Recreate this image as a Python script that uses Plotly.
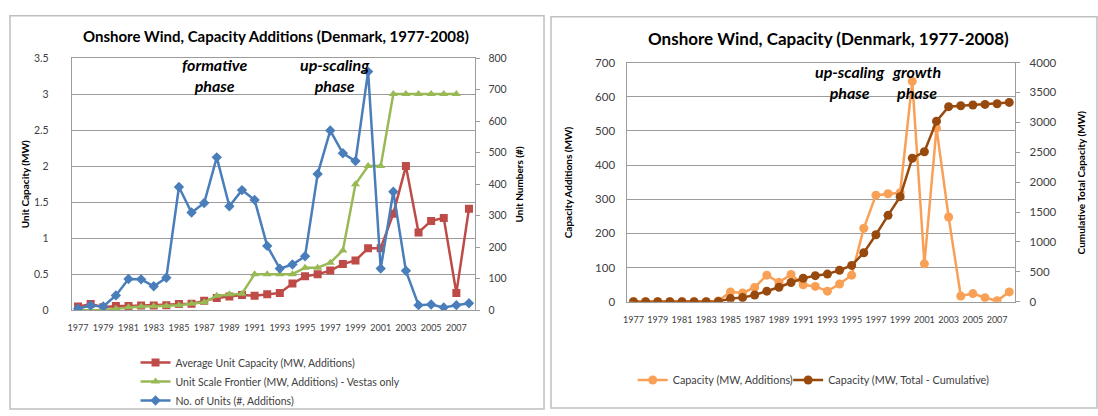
import plotly.graph_objects as go

# ---------------- data ----------------
years = list(range(1977, 2009))

avg_unit_capacity = [0.05, 0.085, 0.04, 0.06, 0.06, 0.065, 0.065, 0.07, 0.085, 0.09,
                     0.13, 0.17, 0.19, 0.21, 0.20, 0.22, 0.24, 0.37, 0.47, 0.50,
                     0.55, 0.64, 0.69, 0.86, 0.86, 1.34, 2.00, 1.08, 1.24, 1.28,
                     0.24, 1.41]

vestas_frontier = [0.0, 0.0, 0.0, 0.02, 0.04, 0.05, 0.055, 0.06, 0.07, 0.09,
                   0.11, 0.20, 0.22, 0.23, 0.50, 0.50, 0.50, 0.50, 0.59, 0.59,
                   0.66, 0.83, 1.75, 2.0, 2.0, 3.0, 3.0, 3.0, 3.0, 3.0,
                   3.0, None]

no_of_units = [5, 15, 12, 47, 99, 98, 76, 103, 391, 310,
               340, 485, 330, 381, 350, 204, 132, 145, 171, 432,
               570, 498, 473, 757, 132, 376, 125, 16, 18, 9,
               16, 22]

capacity_additions = [0, 0, 0, 0, 0, 0, 0, 2, 29, 26,
                      42, 78, 57, 80, 50, 45, 31, 52, 78, 215,
                      312, 316, 319, 645, 111, 508, 248, 17, 24, 12,
                      3, 29]

capacity_cumulative = [0, 0, 0, 0, 0, 0, 0, 5, 53, 70,
                       113, 178, 243, 323, 393, 437, 463, 528, 608, 820,
                       1121, 1445, 1757, 2400, 2508, 3020, 3262, 3278, 3290, 3300,
                       3310, 3333]

x_ticks = list(range(1977, 2008, 2))

W, H = 1098, 416
FONT = "Lato"

def px(x):
    return x / W

def py(y):
    return 1 - y / H

BLUE = "#4A7EBB"
RED = "#BE4B48"
GREEN = "#98B954"
LORANGE = "#F9A057"
DBROWN = "#984A0E"
GRID = "#9C9C9C"
TXT = "#262626"

fig = go.Figure()

# ---------- left chart ----------
fig.add_trace(go.Scatter(x=years, y=avg_unit_capacity, name="Average Unit Capacity (MW, Additions)",
                         mode="lines+markers", line=dict(color=RED, width=2.5),
                         marker=dict(symbol="square", size=8, color=RED),
                         xaxis="x", yaxis="y", legend="legend"))
fig.add_trace(go.Scatter(x=years, y=vestas_frontier, name="Unit Scale Frontier (MW, Additions) - Vestas only",
                         mode="lines+markers", line=dict(color=GREEN, width=2.5),
                         marker=dict(symbol="triangle-up", size=8, color=GREEN),
                         xaxis="x", yaxis="y", legend="legend"))
fig.add_trace(go.Scatter(x=years, y=no_of_units, name="No. of Units (#, Additions)",
                         mode="lines+markers", line=dict(color=BLUE, width=2.5),
                         marker=dict(symbol="diamond", size=8, color=BLUE),
                         xaxis="x", yaxis="y2", legend="legend"))

# ---------- right chart ----------
fig.add_trace(go.Scatter(x=years, y=capacity_additions, name="Capacity (MW, Additions)",
                         mode="lines+markers", line=dict(color=LORANGE, width=2.5),
                         marker=dict(symbol="circle", size=9, color=LORANGE),
                         xaxis="x2", yaxis="y3", legend="legend2"))
fig.add_trace(go.Scatter(x=years, y=capacity_cumulative, name="Capacity (MW, Total - Cumulative)",
                         mode="lines+markers", line=dict(color=DBROWN, width=2.5),
                         marker=dict(symbol="circle", size=9, color=DBROWN),
                         xaxis="x2", yaxis="y4", legend="legend3"))

xtickfont = dict(family=FONT, size=9, color="#404040")
ltickfont = dict(family=FONT, size=10.5, color="#404040")
rtickfont = dict(family=FONT, size=11.5, color="#404040")

xcommon = dict(range=[1976.5, 2008.5], tickvals=x_ticks, showgrid=False, zeroline=False,
               showline=True, mirror=True, linecolor=GRID, linewidth=1,
               tickfont=xtickfont, tickangle=0, ticks="", ticklabelstandoff=9, fixedrange=True)

legfont_r = dict(family=FONT, size=10.8, color="#404040")

fig.update_layout(
    width=W, height=H,
    margin=dict(l=0, r=0, t=0, b=0),
    paper_bgcolor="white", plot_bgcolor="white",
    font=dict(family=FONT, color=TXT),
    xaxis=dict(domain=[px(68), px(473)], anchor="y", **xcommon),
    yaxis=dict(domain=[py(313), py(52.7)], anchor="x", range=[0, 3.5], dtick=0.5,
               showgrid=True, gridcolor=GRID, gridwidth=1, zeroline=False,
               showline=True, mirror=True, linecolor=GRID, tickfont=ltickfont,
               ticklabelstandoff=20),
    yaxis2=dict(overlaying="y", side="right", anchor="x", range=[0, 800], dtick=100,
                showgrid=False, zeroline=False, tickfont=ltickfont,
                ticks="outside", ticklen=4, tickcolor=GRID, ticklabelstandoff=6),
    xaxis2=dict(domain=[px(625.7), px(1015)], anchor="y3", **xcommon),
    yaxis3=dict(domain=[py(304.3), py(57.3)], anchor="x2", range=[0, 700], dtick=100,
                showgrid=True, gridcolor=GRID, gridwidth=1, zeroline=False,
                showline=True, mirror=True, linecolor=GRID, tickfont=rtickfont,
                ticklabelstandoff=9),
    yaxis4=dict(overlaying="y3", side="right", anchor="x2", range=[0, 4000], dtick=500,
                showgrid=False, zeroline=False, tickfont=rtickfont,
                ticks="outside", ticklen=4, tickcolor=GRID, ticklabelstandoff=7),
    legend=dict(x=px(132), y=py(352), xanchor="left", yanchor="top",
                orientation="v", traceorder="normal",
                font=dict(family=FONT, size=10.5, color="#404040"),
                bgcolor="rgba(0,0,0,0)", itemwidth=30),
    legend2=dict(x=px(631), y=py(385), xanchor="left", yanchor="middle",
                 orientation="h", font=legfont_r,
                 bgcolor="rgba(0,0,0,0)", itemwidth=30),
    legend3=dict(x=px(787), y=py(385), xanchor="left", yanchor="middle",
                 orientation="h", font=legfont_r,
                 bgcolor="rgba(0,0,0,0)", itemwidth=30),
    showlegend=True,
)

# outer chart frames
fig.add_shape(type="rect", xref="paper", yref="paper",
              x0=px(6), x1=px(542), y0=py(415), y1=py(9),
              line=dict(color="#BFBFBF", width=1.5), layer="below")
fig.add_shape(type="rect", xref="paper", yref="paper",
              x0=px(549), x1=px(1097), y0=py(414), y1=py(10),
              line=dict(color="#BFBFBF", width=1.5), layer="below")

ann = []
# titles
ann.append(dict(x=px(273), y=py(30), text="<b>Onshore Wind, Capacity Additions (Denmark, 1977-2008)</b>",
                font=dict(family=FONT, size=15, color="black")))
ann.append(dict(x=px(828), y=py(33), text="<b>Onshore Wind, Capacity (Denmark, 1977-2008)</b>",
                font=dict(family=FONT, size=17, color="black")))
# axis titles
axfont = dict(family=FONT, size=10, color="black")
ann.append(dict(x=px(21), y=py(183), text="<b>Unit Capacity (MW)</b>", textangle=-90, font=axfont))
ann.append(dict(x=px(517), y=py(183), text="<b>Unit Numbers (#)</b>", textangle=-90, font=axfont))
ann.append(dict(x=px(566), y=py(181), text="<b>Capacity Additions (MW)</b>", textangle=-90, font=axfont))
ann.append(dict(x=px(1081), y=py(181), text="<b>Cumulative Total Capacity (MW)</b>", textangle=-90, font=axfont))
# phase labels
phfont = dict(family=FONT, size=16, color="black")
ann.append(dict(x=px(211), y=py(70), text="<b><i>formative<br>phase</i></b>", font=phfont))
ann.append(dict(x=px(332), y=py(70), text="<b><i>up-scaling<br>phase</i></b>", font=phfont))
ann.append(dict(x=px(849), y=py(77), text="<b><i>up-scaling<br>phase</i></b>", font=phfont))
ann.append(dict(x=px(916), y=py(77), text="<b><i>growth<br>phase</i></b>", font=phfont))

for a in ann:
    a.update(xref="paper", yref="paper", showarrow=False, xanchor="center", yanchor="middle")
fig.update_layout(annotations=ann)

fig.write_html("out.html", config={"displayModeBar": False},
               post_script="document.body.style.margin='0';document.body.style.overflow='hidden';")
